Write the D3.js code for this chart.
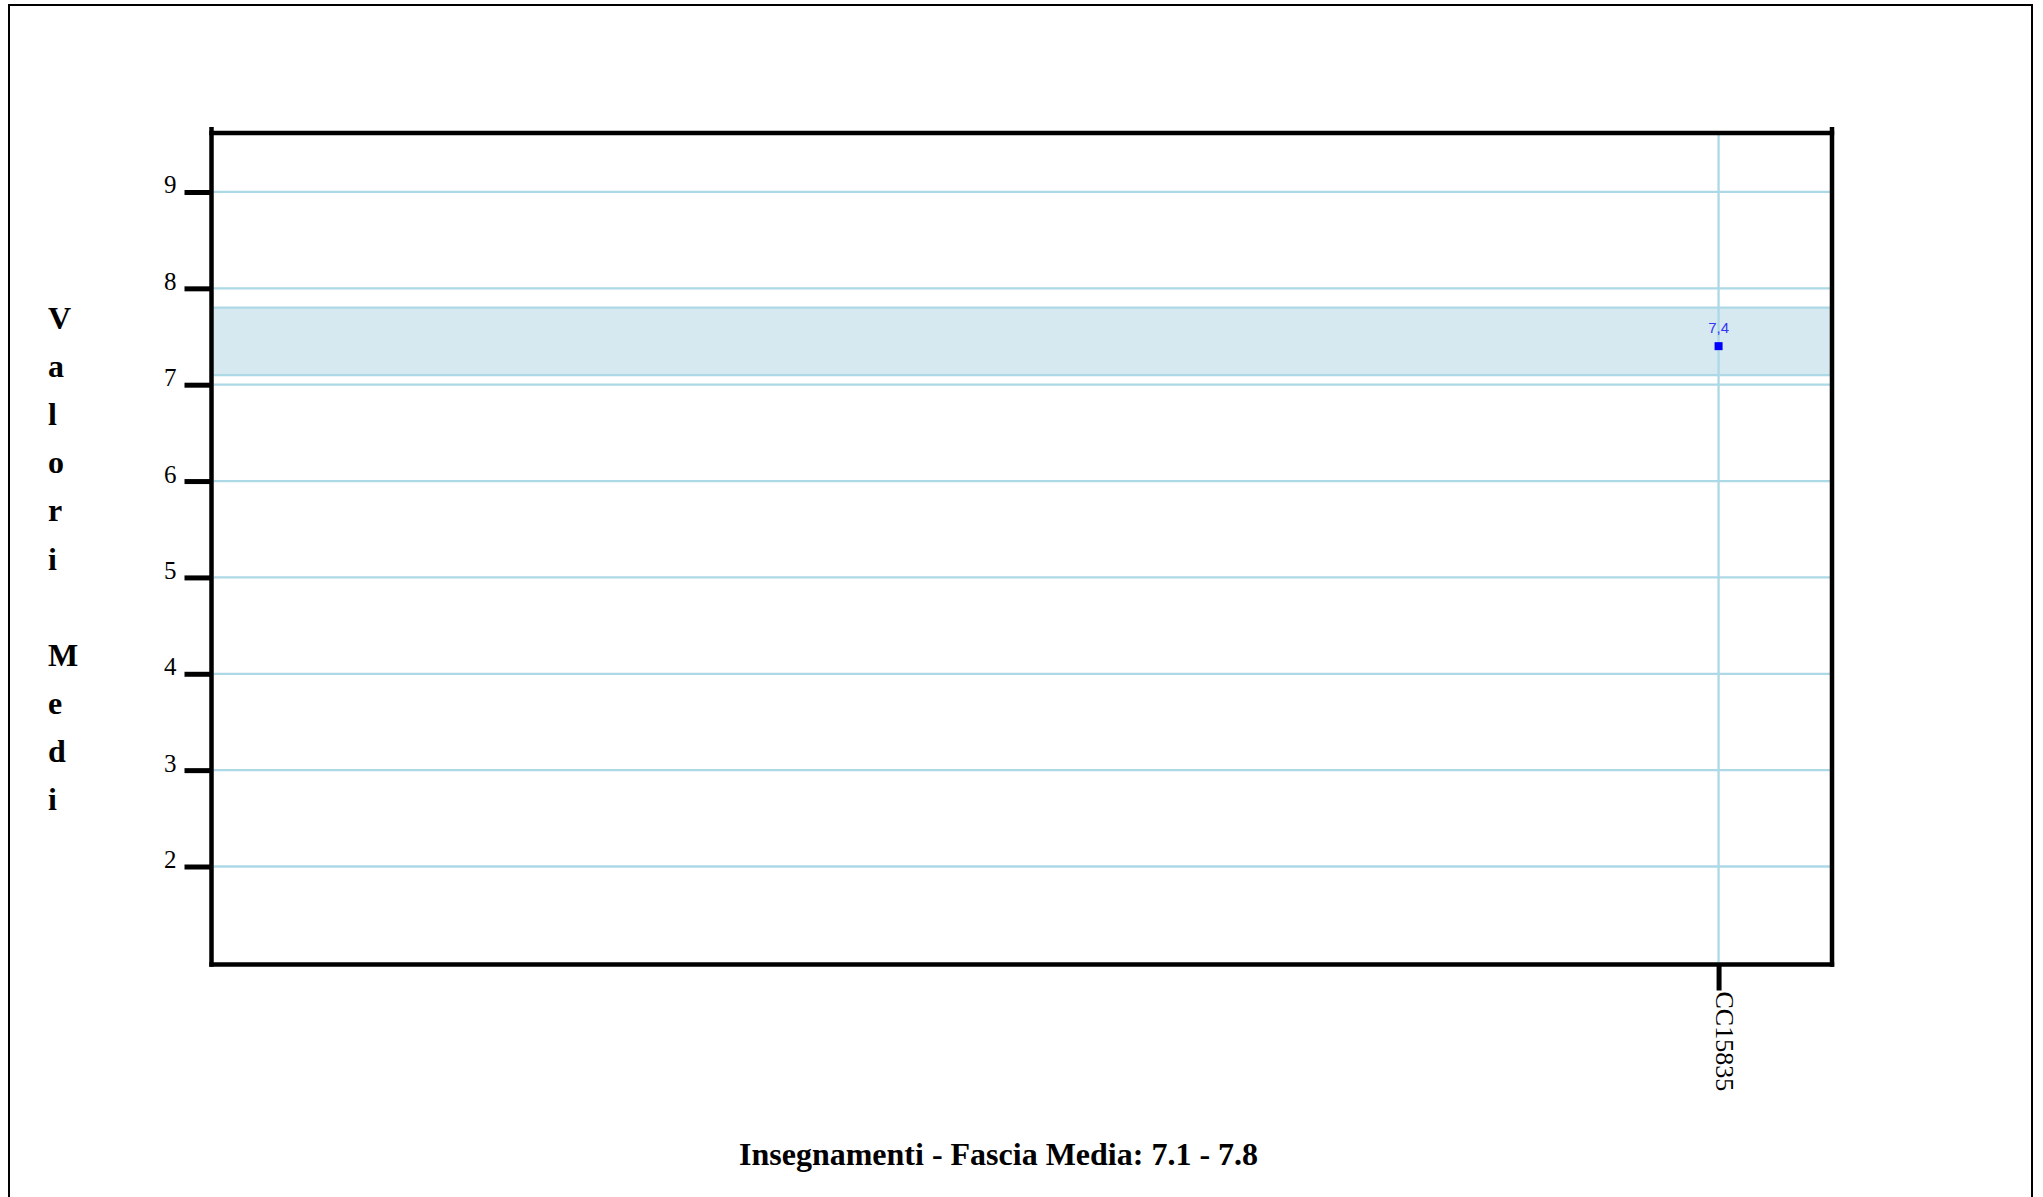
<!DOCTYPE html>
<html>
<head>
<meta charset="utf-8">
<script src="https://cdn.jsdelivr.net/npm/d3@7"></script>
<style>
  html, body { margin: 0; padding: 0; background: #ffffff; }
  svg { display: block; }
</style>
</head>
<body>
<svg id="chart" width="2043" height="1197"></svg>
<script>
// ---- data ----
const categories = ["CC15835"];
const values = [7.4];
const valueLabels = ["7,4"];
const yTickValues = [2, 3, 4, 5, 6, 7, 8, 9];
const bandRange = [7.1, 7.8];
const yDomain = [0.983, 9.612];
const titleText = "Insegnamenti - Fascia Media: 7.1 - 7.8";
const yAxisTitle = "Valori Medi";

// ---- layout ----
const W = 2043, H = 1197;
const plot = { left: 211.5, right: 1832, top: 133, bottom: 964.5 };
const serif = "'Liberation Serif', 'Times New Roman', Times, serif";
const sans = "'Liberation Sans', Arial, Helvetica, sans-serif";
const gridColor = "#add8e6";

const svg = d3.select("#chart");

// outer border
svg.append("rect")
  .attr("x", 9).attr("y", 5)
  .attr("width", 2023).attr("height", 1210)
  .attr("fill", "none").attr("stroke", "#000").attr("stroke-width", 2);

const x = d3.scalePoint().domain(categories)
  .range([plot.left, plot.right]).align(0.93);
const y = d3.scaleLinear().domain(yDomain).range([plot.bottom, plot.top]);

// band
svg.append("rect")
  .attr("x", plot.left + 2)
  .attr("y", y(bandRange[1]))
  .attr("width", plot.right - plot.left - 4)
  .attr("height", y(bandRange[0]) - y(bandRange[1]))
  .attr("fill", "#d6e9f0");
bandRange.forEach(v => {
  svg.append("line")
    .attr("x1", plot.left + 2).attr("x2", plot.right - 2)
    .attr("y1", y(v)).attr("y2", y(v))
    .attr("stroke", gridColor).attr("stroke-width", 2.3);
});

// horizontal gridlines
svg.append("g").selectAll("line").data(yTickValues).join("line")
  .attr("x1", plot.left + 2).attr("x2", plot.right - 2)
  .attr("y1", d => y(d)).attr("y2", d => y(d))
  .attr("stroke", gridColor).attr("stroke-width", 2.3);

// vertical gridlines
svg.append("g").selectAll("line").data(categories).join("line")
  .attr("x1", d => x(d)).attr("x2", d => x(d))
  .attr("y1", plot.top + 2).attr("y2", plot.bottom - 2)
  .attr("stroke", gridColor).attr("stroke-width", 2.3);

// frame
const frame = svg.append("g").attr("stroke", "#000").attr("stroke-width", 4.5);
frame.append("line").attr("x1", plot.left).attr("x2", plot.left).attr("y1", plot.top - 6).attr("y2", plot.bottom + 2.2);
frame.append("line").attr("x1", plot.right).attr("x2", plot.right).attr("y1", plot.top - 6).attr("y2", plot.bottom + 2.2);
frame.append("line").attr("x1", plot.left - 2.2).attr("x2", plot.right + 2.2).attr("y1", plot.top).attr("y2", plot.top);
frame.append("line").attr("x1", plot.left - 2.2).attr("x2", plot.right + 2.2).attr("y1", plot.bottom).attr("y2", plot.bottom);

// y axis
const yAxis = d3.axisLeft(y).tickValues(yTickValues).tickSize(27).tickPadding(8).tickFormat(d3.format("d"));
const gy = svg.append("g").attr("transform", `translate(${plot.left},0)`).call(yAxis);
gy.select(".domain").remove();
gy.selectAll(".tick line").attr("stroke", "#000").attr("stroke-width", 5);
gy.selectAll(".tick text")
  .attr("font-family", serif).attr("font-size", 25).attr("fill", "#000")
  .attr("x", -35).attr("dy", "0.0em").attr("y", 1);

// x axis
const xAxis = d3.axisBottom(x).tickSize(26).tickPadding(0);
const gx = svg.append("g").attr("transform", `translate(0,${plot.bottom})`).call(xAxis);
gx.select(".domain").remove();
gx.selectAll(".tick line").attr("stroke", "#000").attr("stroke-width", 5);
gx.selectAll(".tick text")
  .attr("font-family", serif).attr("font-size", 26).attr("fill", "#000")
  .attr("text-anchor", "start").attr("dy", null)
  .attr("transform", "translate(-3,27) rotate(90)")
  .attr("x", 0).attr("y", 0);

// points
svg.append("g").selectAll("rect").data(values).join("rect")
  .attr("x", (d, i) => x(categories[i]) - 4)
  .attr("y", d => y(d) - 4)
  .attr("width", 8).attr("height", 8)
  .attr("fill", "#0000ff");
svg.append("g").selectAll("text").data(values).join("text")
  .attr("x", (d, i) => x(categories[i]))
  .attr("y", d => y(d) - 13)
  .attr("text-anchor", "middle")
  .attr("font-family", sans).attr("font-size", 15)
  .attr("fill", "#3535f5")
  .text((d, i) => valueLabels[i]);

// y axis title (stacked letters)
const yt = svg.append("text")
  .attr("font-family", serif).attr("font-weight", "bold").attr("font-size", 32)
  .attr("fill", "#000");
yAxisTitle.split("").forEach((ch, i) => {
  yt.append("tspan").attr("x", 48).attr("y", 329 + i * 48.1).text(ch === " " ? "\u00a0" : ch);
});

// title
svg.append("text")
  .attr("x", 739).attr("y", 1165)
  .attr("font-family", serif).attr("font-weight", "bold").attr("font-size", 32)
  .attr("fill", "#000")
  .text(titleText);
</script>
</body>
</html>
